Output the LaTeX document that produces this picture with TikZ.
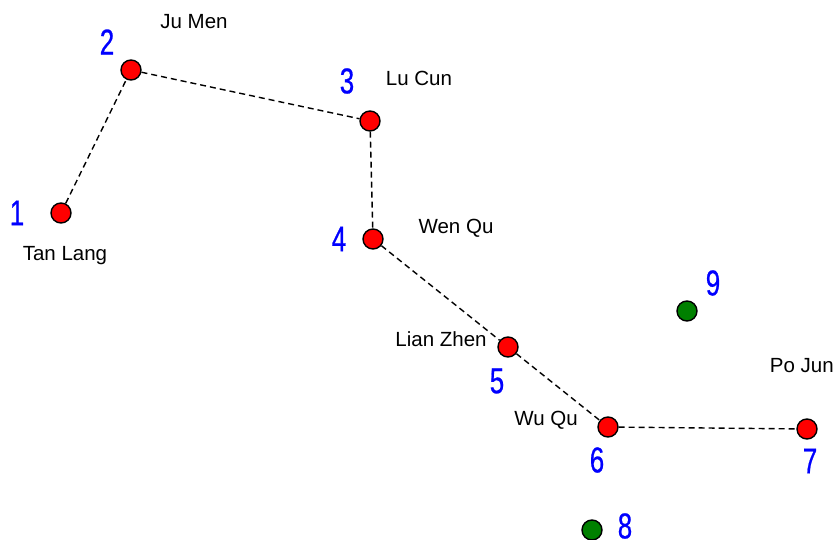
\documentclass[tikz,border=0pt]{standalone}
\usepackage{fontspec}
\setmainfont{Liberation Sans}
\newfontfamily\numfont[FakeStretch=0.72,FakeBold=0.6]{Liberation Sans}
\begin{document}
\begin{tikzpicture}[x=1pt,y=-1pt,
  star/.style={circle,draw=black,line width=1.4pt,fill=red,minimum size=20pt,inner sep=0pt},
  gstar/.style={star,fill=green!50!black},
  num/.style={text=blue,font=\numfont\fontsize{36}{36}\selectfont,inner sep=0pt},
  lab/.style={text=black,font=\fontsize{20.5}{20.5}\selectfont,inner sep=0pt},
  link/.style={draw=black,line width=1.4pt,dash pattern=on 6pt off 4pt}]
\useasboundingbox (0,0) rectangle (835,540);
\node[star] (s1) at (61,213) {};
\node[star] (s2) at (131,70) {};
\node[star] (s3) at (370,121) {};
\node[star] (s4) at (373,239) {};
\node[star] (s5) at (508,347) {};
\node[star] (s6) at (608,427) {};
\node[star] (s7) at (807,429) {};
\node[gstar] (s8) at (592,530) {};
\node[gstar] (s9) at (687,311) {};
\draw[link] (s1) -- (s2) -- (s3) -- (s4) -- (s5) -- (s6) -- (s7);
\node[num] (n1) at (17,213) {1};
\node[num] (n2) at (107,42) {2};
\node[num] (n3) at (347,81) {3};
\node[num] (n4) at (339,239) {4};
\node[num] (n5) at (497,381) {5};
\node[num] (n6) at (597,460) {6};
\node[num] (n7) at (810,461) {7};
\node[num] (n8) at (625,526) {8};
\node[num] (n9) at (713,283) {9};
\node[lab] (l2) at (194,22) {Ju Men};
\node[lab] (l3) at (419,78) {Lu Cun};
\node[lab] (l1) at (65,256) {Tan Lang};
\node[lab] (l4) at (456,228) {Wen Qu};
\node[lab] (l5) at (441,339) {Lian Zhen};
\node[lab] (l6) at (546,420) {Wu Qu};
\node[lab,anchor=east] (l7) at (834,366) {Po Jun};
\end{tikzpicture}
\end{document}
